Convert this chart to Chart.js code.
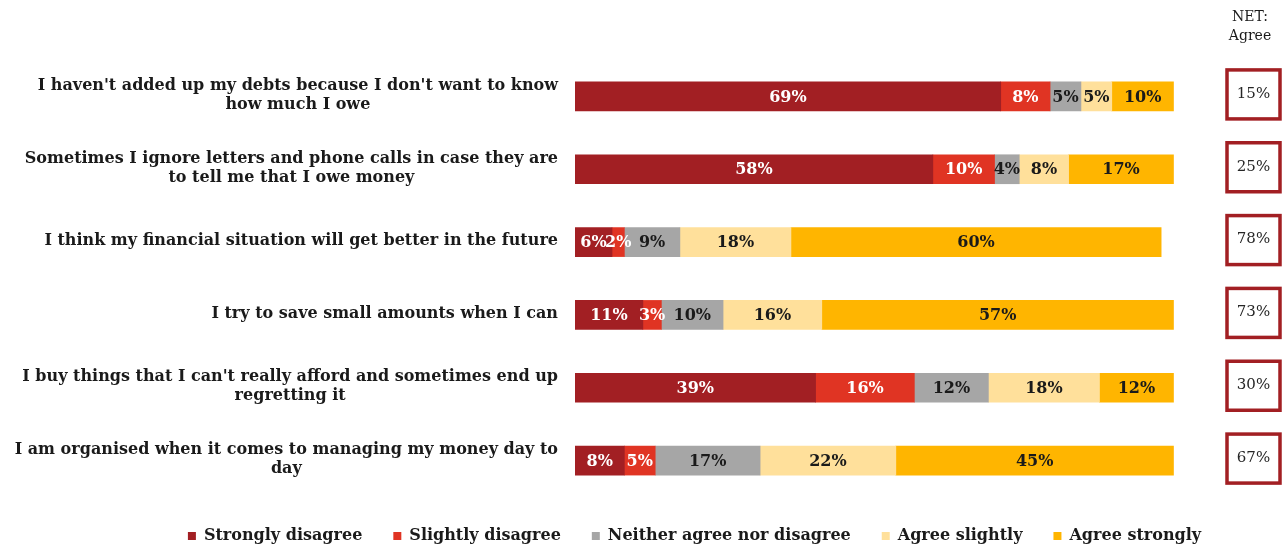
<!DOCTYPE html>
<html>
<head>
<meta charset="utf-8">
<script src="https://cdn.jsdelivr.net/npm/chart.js@4.4.0/dist/chart.umd.min.js"></script>
<style>
  html, body { margin: 0; padding: 0; background: #fff; }
  #wrap { width: 1282px; height: 550px; }
</style>
</head>
<body>
<div id="wrap"><canvas id="moneyChart" width="1282" height="550"></canvas></div>
<script>
// Survey statements (one array of lines per row)
const statements = [
  ["I haven't added up my debts because I don't want to know", "how much I owe"],
  ["Sometimes I ignore letters and phone calls in case they are", "to tell me that I owe money"],
  ["I think my financial situation will get better in the future"],
  ["I try to save small amounts when I can"],
  ["I buy things that I can't really afford and sometimes end up", "regretting it"],
  ["I am organised when it comes to managing my money day to", "day"]
];

// Responses, % of respondents
const stronglyDisagree = [69, 58, 6, 11, 39, 8];
const slightlyDisagree = [8, 10, 2, 3, 16, 5];
const neitherAgree = [5, 4, 9, 10, 12, 17];
const agreeSlightly = [5, 8, 18, 16, 18, 22];
const agreeStrongly = [10, 17, 60, 57, 12, 45];
const netAgree = [15, 25, 78, 73, 30, 67];

const seriesNames = ['Strongly disagree', 'Slightly disagree', 'Neither agree nor disagree', 'Agree slightly', 'Agree strongly'];
const seriesColors = ['#A21F23', '#E03423', '#A6A6A6', '#FFE09B', '#FFB500'];
const labelColors = ['#ffffff', '#ffffff', '#1a1a1a', '#1a1a1a', '#1a1a1a'];

const SERIF = '"DejaVu Serif", Georgia, serif';

// Value text inside each bar segment
const segmentLabels = {
  id: 'segmentLabels',
  afterDatasetsDraw(chart) {
    const ctx = chart.ctx;
    ctx.save();
    ctx.font = 'bold 16px ' + SERIF;
    ctx.textAlign = 'center';
    ctx.textBaseline = 'middle';
    chart.data.datasets.forEach((ds, di) => {
      const meta = chart.getDatasetMeta(di);
      meta.data.forEach((bar, i) => {
        const v = ds.data[i];
        if (!v) return;
        ctx.fillStyle = labelColors[di];
        ctx.fillText(v + '%', (bar.x + bar.base) / 2, bar.y + 1);
      });
    });
    ctx.restore();
  }
};

// Statement text to the left of the bars, right-aligned block with centred lines
const statementLabels = {
  id: 'statementLabels',
  afterDraw(chart) {
    const ctx = chart.ctx;
    const yScale = chart.scales.y;
    const right = chart.chartArea.left - 17;
    const lineH = 19;
    ctx.save();
    ctx.font = 'bold 16px ' + SERIF;
    ctx.fillStyle = '#1a1a1a';
    ctx.textAlign = 'center';
    ctx.textBaseline = 'middle';
    statements.forEach((lines, i) => {
      const y = yScale.getPixelForValue(i);
      const w = Math.max(...lines.map(l => ctx.measureText(l).width));
      const cx = right - w / 2;
      const top = y - (lines.length - 1) * lineH / 2 - 1;
      lines.forEach((l, k) => ctx.fillText(l, cx, top + k * lineH));
    });
    ctx.restore();
  }
};

// NET: Agree column with boxed values
const netColumn = {
  id: 'netColumn',
  afterDraw(chart) {
    const ctx = chart.ctx;
    const yScale = chart.scales.y;
    ctx.save();
    ctx.font = '14px ' + SERIF;
    ctx.fillStyle = '#1a1a1a';
    ctx.textAlign = 'center';
    ctx.textBaseline = 'middle';
    ctx.fillText('NET:', 1250, 17);
    ctx.fillText('Agree', 1250, 36);
    netAgree.forEach((v, i) => {
      const y = yScale.getPixelForValue(i) - 2.5;
      ctx.strokeStyle = '#A21F23';
      ctx.lineWidth = 3.5;
      ctx.strokeRect(1227, y - 24, 53, 49);
      ctx.fillStyle = '#262626';
      ctx.font = '15px ' + SERIF;
      ctx.fillText(v + '%', 1253.5, y);
    });
    ctx.restore();
  }
};

const seriesData = [stronglyDisagree, slightlyDisagree, neitherAgree, agreeSlightly, agreeStrongly];

new Chart(document.getElementById('moneyChart'), {
  type: 'bar',
  data: {
    labels: statements,
    datasets: seriesNames.map((name, i) => ({
      label: name,
      data: seriesData[i],
      backgroundColor: seriesColors[i],
      borderWidth: 0,
      barThickness: 29
    }))
  },
  options: {
    indexAxis: 'y',
    responsive: false,
    animation: false,
    devicePixelRatio: 1,
    layout: { padding: { left: 107, right: 0, top: 60, bottom: -4 } },
    scales: {
      x: {
        stacked: true,
        min: 0,
        max: 100,
        display: false
      },
      y: {
        stacked: true,
        ticks: { display: false },
        grid: { display: false },
        border: { display: false },
        afterFit(scale) { scale.width = 468; }
      },
      yRight: {
        type: 'category',
        position: 'right',
        ticks: { display: false },
        grid: { display: false },
        border: { display: false },
        afterFit(scale) { scale.width = 90; }
      }
    },
    plugins: {
      tooltip: { enabled: false },
      legend: {
        position: 'bottom',
        labels: {
          font: { family: SERIF, size: 16, weight: 'bold' },
          color: '#1a1a1a',
          boxWidth: 8,
          boxHeight: 8,
          padding: 31
        }
      }
    }
  },
  plugins: [segmentLabels, statementLabels, netColumn]
});
</script>
</body>
</html>
